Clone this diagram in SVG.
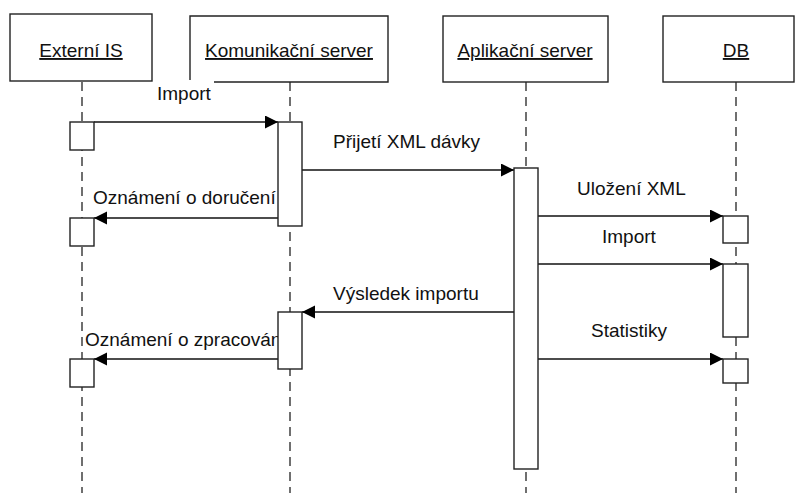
<svg xmlns="http://www.w3.org/2000/svg" width="795" height="493" viewBox="0 0 795 493">
<defs>
<marker id="ah" markerUnits="userSpaceOnUse" markerWidth="14" markerHeight="14" refX="13" refY="6.5" orient="auto">
<path d="M0,0 L13,6.5 L0,13 z" fill="#000"/>
</marker>
<style>
.box{fill:#fff;stroke:#222;stroke-width:1.4}
.life{stroke:#333;stroke-width:1.4;stroke-dasharray:9 6;fill:none}
.act{fill:#fff;stroke:#222;stroke-width:1.4}
.msg{stroke:#111;stroke-width:1.4;fill:none;marker-end:url(#ah)}
.hdr{font-family:"Liberation Sans",Arial,sans-serif;font-size:19px;fill:#111;text-anchor:middle;text-decoration:underline}
.lbl{font-family:"Liberation Sans",Arial,sans-serif;font-size:19px;fill:#111}
</style>
</defs>
<rect width="795" height="493" fill="#fff"/>
<g id="externi-is">
<line class="life" x1="82" y1="82" x2="82" y2="493"/>
<rect class="box" x="10" y="14" width="142" height="67"/>
<text class="hdr" x="81" y="57">Externí IS</text>
</g>
<g id="komunikacni-server">
<line class="life" x1="290" y1="82" x2="290" y2="493"/>
<rect x="190" y="16" width="198" height="66" fill="#fff"/>
<path class="box" d="M214,82 H388 V16 H190 V80"/>
<text class="hdr" x="289" y="57">Komunikační server</text>
</g>
<g id="aplikacni-server">
<line class="life" x1="526" y1="82" x2="526" y2="493"/>
<rect class="box" x="443" y="16" width="165" height="66"/>
<text class="hdr" x="525" y="57">Aplikační server</text>
</g>
<g id="db">
<line class="life" x1="736" y1="82" x2="736" y2="493"/>
<rect class="box" x="663" y="16" width="131" height="66"/>
<text class="hdr" x="736" y="57">DB</text>
</g>
<g id="connectors">
<line class="msg" x1="94" y1="122" x2="278" y2="122"/>
<text class="lbl" x="157" y="100">Import</text>
<line class="msg" x1="302" y1="170" x2="514" y2="170"/>
<text class="lbl" x="333" y="148">Přijetí XML dávky</text>
<line class="msg" x1="278" y1="218" x2="94" y2="218"/>
<text class="lbl" x="93" y="204">Oznámení o doručení</text>
<line class="msg" x1="538" y1="216" x2="723" y2="216"/>
<text class="lbl" x="577" y="195">Uložení XML</text>
<line class="msg" x1="538" y1="264" x2="723" y2="264"/>
<text class="lbl" x="602" y="243">Import</text>
<line class="msg" x1="514" y1="312" x2="302" y2="312"/>
<text class="lbl" x="333" y="300">Výsledek importu</text>
<line class="msg" x1="538" y1="359" x2="723" y2="359"/>
<text class="lbl" x="591" y="337">Statistiky</text>
<line class="msg" x1="278" y1="359" x2="94" y2="359"/>
<text class="lbl" x="85" y="346">Oznámení o zpracování</text>
</g>
<g id="activations">
<rect id="act-ext-1" class="act" x="70" y="122" width="24" height="28"/>
<rect id="act-ext-2" class="act" x="70" y="218" width="24" height="28"/>
<rect id="act-ext-3" class="act" x="70" y="359" width="24" height="28"/>
<rect id="act-kom-1" class="act" x="278" y="122" width="24" height="104"/>
<rect id="act-kom-2" class="act" x="278" y="312" width="24" height="57"/>
<rect id="act-apl-1" class="act" x="514" y="168" width="24" height="301"/>
<rect id="act-db-1" class="act" x="723" y="216" width="25" height="27"/>
<rect id="act-db-2" class="act" x="723" y="264" width="25" height="73"/>
<rect id="act-db-3" class="act" x="723" y="359" width="25" height="24"/>
</g>
</svg>
